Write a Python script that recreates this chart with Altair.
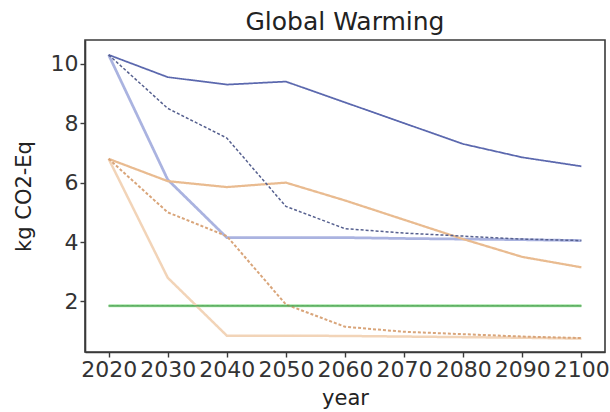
import altair as alt
import pandas as pd

years = [2020, 2030, 2040, 2050, 2060, 2070, 2080, 2090, 2100]

blue_solid = [10.3, 9.55, 9.3, 9.4, 8.7, 8.0, 7.3, 6.85, 6.55]
blue_dashed = [10.3, 8.5, 7.5, 5.2, 4.45, 4.3, 4.2, 4.1, 4.05]
blue_light = [10.3, 6.1, 4.15, 4.15, 4.15, 4.12, 4.1, 4.08, 4.05]
orange_solid = [6.8, 6.05, 5.85, 6.0, 5.4, 4.75, 4.1, 3.5, 3.15]
orange_dashed = [6.8, 5.0, 4.2, 1.9, 1.15, 0.98, 0.9, 0.82, 0.77]
orange_light = [6.8, 2.8, 0.85, 0.85, 0.84, 0.82, 0.8, 0.78, 0.75]
green_light = [1.86, 1.86, 1.86, 1.86, 1.86, 1.86, 1.86, 1.86, 1.86]
green_solid = [1.85, 1.85, 1.85, 1.85, 1.85, 1.85, 1.85, 1.85, 1.85]
green_dashed = [1.85, 1.85, 1.85, 1.85, 1.85, 1.85, 1.85, 1.85, 1.85]

series = [
    ("green_light", green_light, "solid"),
    ("blue_light", blue_light, "solid"),
    ("orange_light", orange_light, "solid"),
    ("orange_solid", orange_solid, "solid"),
    ("orange_dashed", orange_dashed, "dashed"),
    ("blue_solid", blue_solid, "solid"),
    ("blue_dashed", blue_dashed, "dashed"),
    ("green_solid", green_solid, "solid"),
    ("green_dashed", green_dashed, "dashed"),
]

rows = []
for order, (name, vals, dash) in enumerate(series):
    for y, v in zip(years, vals):
        rows.append({"series": name, "year": y, "value": v, "dash": dash, "order": order})
df = pd.DataFrame(rows)

names = [s[0] for s in series]
colors = ["#a8e8a8", "#aab3e0", "#f2d4b8", "#e9bb90", "#d9a57a",
          "#5b68ae", "#56608f", "#3f9a48", "#78b878"]
widths = [3.0, 1.0, 1.0, 1.3, 1.3, 1.3, 1.3, 1.4, 1.1]

chart = alt.Chart(df).mark_line().encode(
    x=alt.X("year:Q", title="year",
            scale=alt.Scale(domain=[2016, 2104], nice=False, zero=False),
            axis=alt.Axis(values=years, format="d", labelOverlap=False,
                          labelFlush=False)),
    y=alt.Y("value:Q", title="kg CO2-Eq",
            scale=alt.Scale(domain=[0.3, 10.8], nice=False, zero=False),
            axis=alt.Axis(values=[2, 4, 6, 8, 10])),
    color=alt.Color("series:N", scale=alt.Scale(domain=names, range=colors), legend=None),
    strokeWidth=alt.StrokeWidth("series:N", scale=alt.Scale(domain=names, range=widths), legend=None),
    strokeDash=alt.StrokeDash("dash:N",
                              scale=alt.Scale(domain=["solid", "dashed"],
                                              range=[[1, 0], [3, 2]]),
                              legend=None),
    detail="series:N",
    order="order:Q",
).properties(
    width=520,
    height=312,
    title=alt.Title("Global Warming", fontSize=25, font="DejaVu Sans",
                    fontWeight="normal", color="#222", offset=5),
    padding={"left": 85, "top": 40, "right": 5, "bottom": 60},
    autosize=alt.AutoSizeParams(type="none"),
).configure_view(
    stroke="#3a3a3a", strokeWidth=1.6
).configure_axis(
    grid=False,
    domainColor="#3a3a3a",
    domainWidth=1.6,
    tickColor="#3a3a3a",
    tickSize=5,
    tickWidth=1.4,
    labelFont="DejaVu Sans",
    labelFontSize=22,
    labelColor="#333",
    titleFont="DejaVu Sans",
    titleFontSize=21,
    titleFontWeight="normal",
    titleColor="#222",
    labelPadding=2,
).configure_axisY(
    titlePadding=16
).configure_axisX(
    titlePadding=7
)

chart.save("out.html", embed_options={"renderer": "svg", "actions": False})
